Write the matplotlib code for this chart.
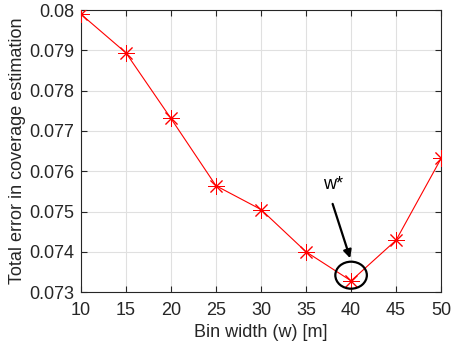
import matplotlib.pyplot as plt
from matplotlib.patches import Ellipse

plt.rcParams['font.family'] = ['Liberation Sans', 'DejaVu Sans']

bin_width = [10, 15, 20, 25, 30, 35, 40, 45, 50]
total_error = [0.0799, 0.07894, 0.07731, 0.07564, 0.07505, 0.07400, 0.07328, 0.07429, 0.07632]

x_ticks = [10, 15, 20, 25, 30, 35, 40, 45, 50]
y_ticks = [0.073, 0.074, 0.075, 0.076, 0.077, 0.078, 0.079, 0.08]
y_ticklabels = ['0.073', '0.074', '0.075', '0.076', '0.077', '0.078', '0.079', '0.08']

dark = '#262626'
fs = 13

fig = plt.figure(figsize=(4.52, 3.49), dpi=100)
ax = fig.add_axes([0.179, 0.163, 0.797, 0.808])

ax.plot(bin_width, total_error, color='red', linewidth=0.8,
        marker=(8, 2, 0), markersize=12, markeredgewidth=0.7,
        markeredgecolor='red', zorder=3)

# circle + arrow marking the optimum
ax.add_patch(Ellipse((40, 0.07342), 3.5, 0.00067, fill=False,
                     edgecolor='black', linewidth=1.6, zorder=4))
ax.annotate('', xy=(39.9, 0.07384), xytext=(37.95, 0.07519),
            arrowprops=dict(arrowstyle='-|>', color='black', lw=1.6,
                            mutation_scale=12, shrinkA=0, shrinkB=0))
ax.text(38.0, 0.07566, 'w*', fontsize=fs, ha='center', va='center')

ax.set_xlim(10, 50)
ax.set_ylim(0.073, 0.08)
ax.set_xticks(x_ticks)
ax.set_yticks(y_ticks)
ax.set_yticklabels(y_ticklabels)

ax.grid(True, color='#e0e0e0', linewidth=0.8)
ax.set_axisbelow(True)
ax.tick_params(direction='in', top=True, right=True, length=4,
               colors=dark, labelsize=fs, labelcolor=dark)
ax.tick_params(axis='x', pad=7)
ax.tick_params(axis='y', pad=5)
for s in ax.spines.values():
    s.set_color(dark)
    s.set_linewidth(0.8)

ax.set_xlabel('Bin width (w) [m]', fontsize=fs, color=dark, labelpad=4)
ax.set_ylabel('Total error in coverage estimation', fontsize=fs, color=dark, labelpad=2)

fig.savefig('out.png', dpi=100)
